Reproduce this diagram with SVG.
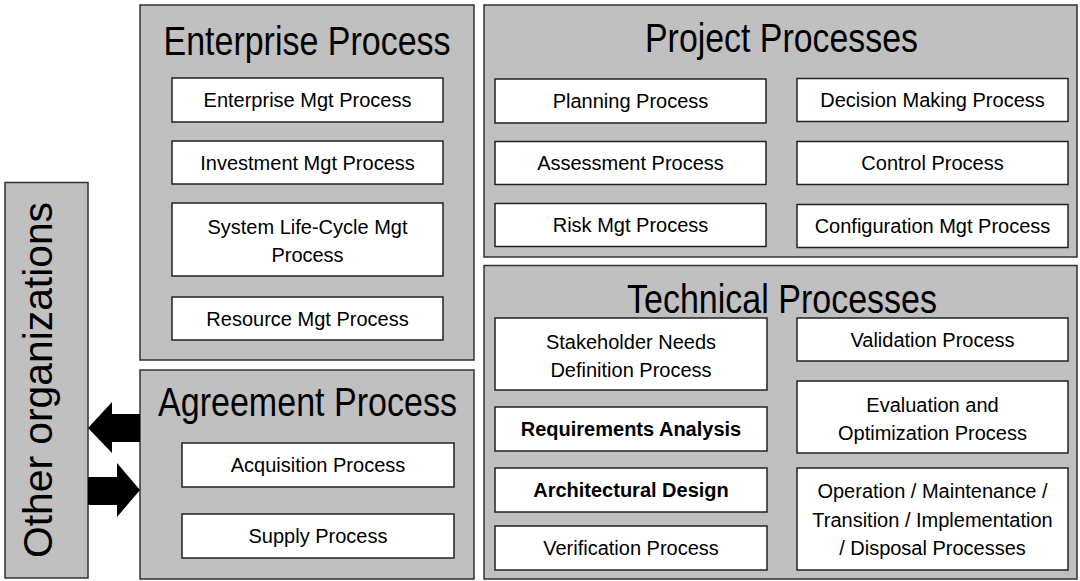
<svg xmlns="http://www.w3.org/2000/svg" width="1080" height="581" viewBox="0 0 1080 581">
<style>
.panel{fill:#c0c0c0;stroke:#333;stroke-width:1.5}
.box{fill:#fff;stroke:#222;stroke-width:1.5}
.t{font-family:"Liberation Sans",Arial,sans-serif;font-size:20px;fill:#000;text-anchor:middle}
.b{font-weight:bold}
.title{font-family:"Liberation Sans",Arial,sans-serif;font-size:41px;fill:#000;text-anchor:middle}
.arrow{fill:#000}
</style>
<rect width="1080" height="581" fill="#fff"/>

<g id="other-organizations">
<rect class="panel" x="5" y="182.5" width="83" height="395.5"/>
<text class="title" transform="translate(52,380) rotate(-90)" textLength="356" lengthAdjust="spacingAndGlyphs">Other organizations</text>
</g>

<g id="enterprise-process">
<rect class="panel" x="140" y="5" width="334" height="355"/>
<text class="title" x="307" y="55" textLength="287" lengthAdjust="spacingAndGlyphs">Enterprise Process</text>
<g id="enterprise-mgt"><rect class="box" x="172" y="78" width="271" height="44"/><text class="t" x="307.5" y="107">Enterprise Mgt Process</text></g>
<g id="investment-mgt"><rect class="box" x="172" y="141" width="271" height="43"/><text class="t" x="307.5" y="169.5">Investment Mgt Process</text></g>
<g id="system-lifecycle-mgt"><rect class="box" x="172" y="203" width="271" height="73"/><text class="t" x="307.5" y="234">System Life-Cycle Mgt</text><text class="t" x="307.5" y="262">Process</text></g>
<g id="resource-mgt"><rect class="box" x="172" y="297" width="271" height="43"/><text class="t" x="307.5" y="325.5">Resource Mgt Process</text></g>
</g>

<g id="agreement-process">
<rect class="panel" x="140" y="370" width="334" height="209"/>
<text class="title" x="307.5" y="416" textLength="299" lengthAdjust="spacingAndGlyphs">Agreement Process</text>
<g id="acquisition"><rect class="box" x="182" y="443" width="272" height="44"/><text class="t" x="318" y="472">Acquisition Process</text></g>
<g id="supply"><rect class="box" x="182" y="514" width="272" height="44"/><text class="t" x="318" y="543">Supply Process</text></g>
</g>

<g id="project-processes">
<rect class="panel" x="484" y="5" width="593" height="252"/>
<text class="title" x="781.5" y="52" textLength="273" lengthAdjust="spacingAndGlyphs">Project Processes</text>
<g id="planning"><rect class="box" x="495" y="79" width="271" height="44"/><text class="t" x="630.5" y="108">Planning Process</text></g>
<g id="decision-making"><rect class="box" x="797" y="78.5" width="271" height="43"/><text class="t" x="932.5" y="107">Decision Making Process</text></g>
<g id="assessment"><rect class="box" x="495" y="141.5" width="271" height="43"/><text class="t" x="630.5" y="170">Assessment Process</text></g>
<g id="control"><rect class="box" x="797" y="141.5" width="271" height="43"/><text class="t" x="932.5" y="170">Control Process</text></g>
<g id="risk-mgt"><rect class="box" x="495" y="203.5" width="271" height="43"/><text class="t" x="630.5" y="232">Risk Mgt Process</text></g>
<g id="configuration-mgt"><rect class="box" x="797" y="204.5" width="271" height="43"/><text class="t" x="932.5" y="233">Configuration Mgt Process</text></g>
</g>

<g id="technical-processes">
<rect class="panel" x="484" y="265.5" width="593" height="313.5"/>
<text class="title" x="782" y="313" textLength="310" lengthAdjust="spacingAndGlyphs">Technical Processes</text>
<g id="stakeholder-needs"><rect class="box" x="495" y="318" width="272" height="72"/><text class="t" x="631" y="349">Stakeholder Needs</text><text class="t" x="631" y="377">Definition Process</text></g>
<g id="requirements-analysis"><rect class="box" x="495" y="407" width="272" height="44"/><text class="t b" x="631" y="436">Requirements Analysis</text></g>
<g id="architectural-design"><rect class="box" x="495" y="468" width="272" height="44"/><text class="t b" x="631" y="497">Architectural Design</text></g>
<g id="verification"><rect class="box" x="495" y="526" width="272" height="44"/><text class="t" x="631" y="555">Verification Process</text></g>
<g id="validation"><rect class="box" x="797" y="318" width="271" height="43"/><text class="t" x="932.5" y="346.5">Validation Process</text></g>
<g id="evaluation-optimization"><rect class="box" x="797" y="381" width="271" height="72"/><text class="t" x="932.5" y="412">Evaluation and</text><text class="t" x="932.5" y="439.5">Optimization Process</text></g>
<g id="operation-maintenance"><rect class="box" x="797" y="468" width="271" height="102"/><text class="t" x="932.5" y="498">Operation / Maintenance /</text><text class="t" x="932.5" y="526.5">Transition / Implementation</text><text class="t" x="932.5" y="555">/ Disposal Processes</text></g>
</g>

<g id="connectors">
<polygon class="arrow" points="140,414 112,414 112,402 88,428 112,453 112,442 140,442"/>
<polygon class="arrow" points="88,477 117,477 117,463 140,490 117,517 117,505 88,505"/>
</g>
</svg>
